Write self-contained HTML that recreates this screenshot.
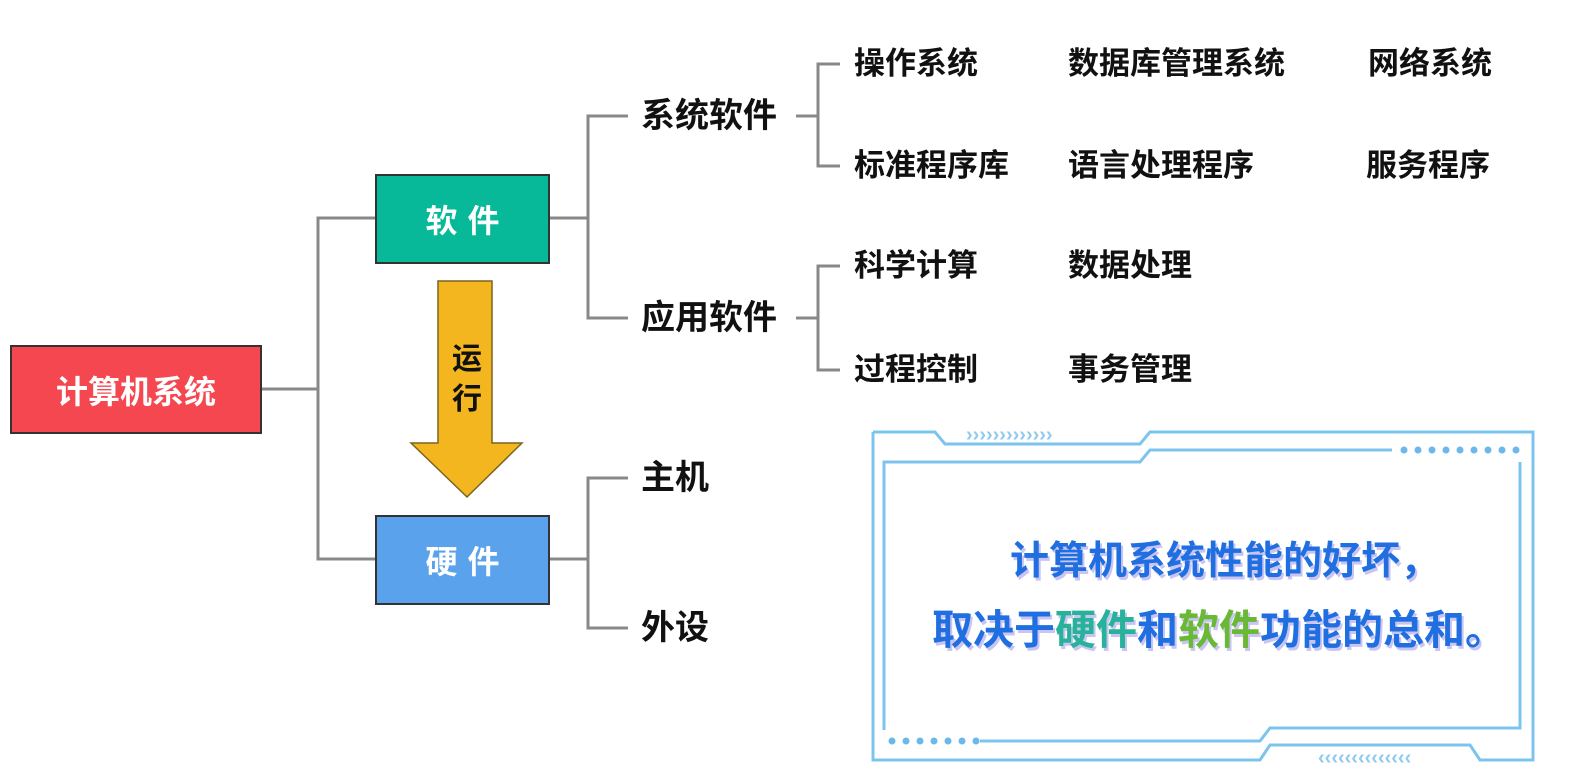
<!DOCTYPE html>
<html><head><meta charset="utf-8"><style>
body{margin:0;width:1572px;height:778px;background:#fff;overflow:hidden;position:relative;font-family:"Liberation Sans","Noto Sans CJK SC",sans-serif;}
.t{position:absolute;font-weight:bold;color:#111;white-space:nowrap;line-height:1;}
.b{position:absolute;display:flex;align-items:center;justify-content:center;color:#fff;font-weight:bold;box-sizing:border-box;border:2px solid #333;}
</style></head><body>
<svg width="1572" height="778" style="position:absolute;left:0;top:0">
<g stroke="#888" stroke-width="3" fill="none">
<polyline points="261,389 318,389"/>
<polyline points="375,218 318,218 318,559 375,559"/>
<polyline points="549,218 588,218"/>
<polyline points="628,116 588,116 588,318 628,318"/>
<polyline points="549,559 588,559"/>
<polyline points="628,478 588,478 588,628 628,628"/>
<polyline points="796,116 818,116"/>
<polyline points="840,64 818,64 818,166 840,166"/>
<polyline points="796,318 818,318"/>
<polyline points="840,266 818,266 818,370 840,370"/>
</g>
<polygon points="438,281 492,281 492,443 522,443 467,497 411,443 438,443" fill="#f3b61f" stroke="#7a6420" stroke-width="1.5"/>
<g stroke="#7cc4ee" stroke-width="3" fill="none">
<polyline points="873,432 935,432 945,444 1140,444 1150,432 1533,432 1533,760 1480,760 1470,745 1270,745 1260,760 873,760 873,432"/>
<polyline points="884,730 884,462 1140,462 1150,450 1392,450"/>
<polyline points="980,741 1260,741 1270,728 1520,728 1520,462"/>
</g>
<g fill="#6cb8ea">
<circle cx="1404" cy="450" r="3.5"/><circle cx="1418" cy="450" r="3.5"/><circle cx="1432" cy="450" r="3.5"/><circle cx="1446" cy="450" r="3.5"/><circle cx="1460" cy="450" r="3.5"/><circle cx="1474" cy="450" r="3.5"/><circle cx="1488" cy="450" r="3.5"/><circle cx="1502" cy="450" r="3.5"/><circle cx="1516" cy="450" r="3.5"/>
<circle cx="892" cy="741" r="3.5"/><circle cx="906" cy="741" r="3.5"/><circle cx="920" cy="741" r="3.5"/><circle cx="934" cy="741" r="3.5"/><circle cx="948" cy="741" r="3.5"/><circle cx="962" cy="741" r="3.5"/><circle cx="976" cy="741" r="3.5"/>
</g>
<text x="966" y="441" font-size="20" fill="#8fcaf0" font-family="Liberation Sans" font-weight="bold" letter-spacing="0">›››››››››››››</text>
<text x="1318" y="764" font-size="20" fill="#8fcaf0" font-family="Liberation Sans" font-weight="bold" letter-spacing="0">‹‹‹‹‹‹‹‹‹‹‹‹‹‹</text>
</svg>
<div class="b" style="left:10px;top:345px;width:252px;height:89px;background:#f5474f;font-size:32px;">计算机系统</div>
<div class="b" style="left:375px;top:174px;width:175px;height:90px;background:#07b999;font-size:32px;letter-spacing:10px;padding-left:10px;">软件</div>
<div class="b" style="left:375px;top:515px;width:175px;height:90px;background:#5aa2ec;font-size:32px;letter-spacing:10px;padding-left:10px;">硬件</div>
<div class="t" style="left:449px;top:340px;font-size:30px;line-height:40px;width:36px;text-align:center;white-space:normal;">运<br>行</div>
<div class="t" style="left:641px;top:99px;font-size:34px;">系统软件</div>
<div class="t" style="left:641px;top:301px;font-size:34px;">应用软件</div>
<div class="t" style="left:641px;top:461px;font-size:34px;">主机</div>
<div class="t" style="left:641px;top:611px;font-size:34px;">外设</div>
<div class="t" style="left:854px;top:48px;font-size:31px;">操作系统</div>
<div class="t" style="left:1068px;top:48px;font-size:31px;">数据库管理系统</div>
<div class="t" style="left:1368px;top:48px;font-size:31px;">网络系统</div>
<div class="t" style="left:854px;top:150px;font-size:31px;">标准程序库</div>
<div class="t" style="left:1068px;top:150px;font-size:31px;">语言处理程序</div>
<div class="t" style="left:1366px;top:150px;font-size:31px;">服务程序</div>
<div class="t" style="left:854px;top:250px;font-size:31px;">科学计算</div>
<div class="t" style="left:1068px;top:250px;font-size:31px;">数据处理</div>
<div class="t" style="left:854px;top:354px;font-size:31px;">过程控制</div>
<div class="t" style="left:1068px;top:354px;font-size:31px;">事务管理</div>
<div class="t" style="left:1010px;top:542px;font-size:39px;color:#1f6fe0;text-shadow:2px 3px 0 #c9c4f2;">计算机系统性能的好坏，</div>
<div class="t" style="left:932px;top:610px;font-size:41px;color:#1f6fe0;text-shadow:2px 3px 0 #c9c4f2;">取决于<span style="color:#27b39a">硬件</span>和<span style="color:#6ab935">软件</span>功能的总和。</div>
</body></html>
